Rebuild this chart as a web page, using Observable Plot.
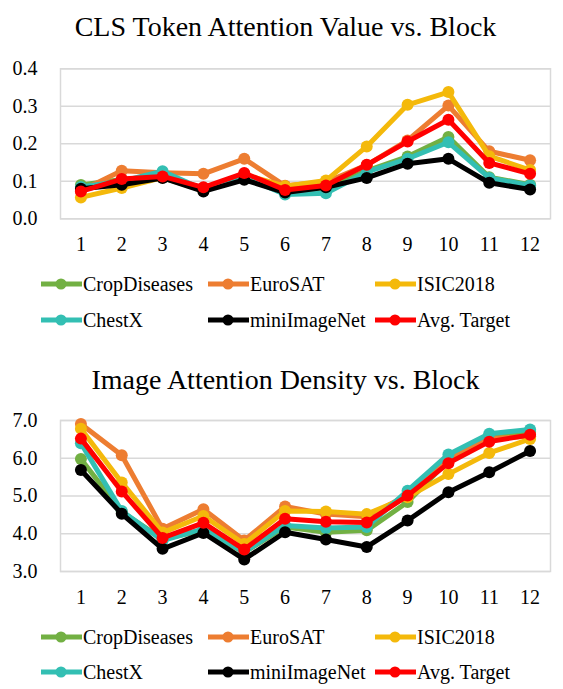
<!DOCTYPE html>
<html><head><meta charset="utf-8">
<script src="https://cdn.jsdelivr.net/npm/d3@7"></script>
<script src="https://cdn.jsdelivr.net/npm/@observablehq/plot@0.6"></script>
<style>
body{margin:0;background:#fff;font-family:"Liberation Serif","Times New Roman",serif;}
#root{position:relative;width:563px;height:689px;overflow:hidden;background:#fff}
.title{position:absolute;left:4px;width:563px;text-align:center;font-size:28px;line-height:28px;color:#000;white-space:nowrap;font-family:"Liberation Serif","Times New Roman",serif}
.chart{position:absolute;left:0}
.item{position:absolute;height:20px;white-space:nowrap}
.item svg{position:absolute;left:0;top:0}
.item span{position:absolute;left:43px;top:0;font-size:20px;line-height:20px;color:#000;font-family:"Liberation Serif","Times New Roman",serif}
</style></head><body><div id="root"></div>
<script>
const blocks = [1,2,3,4,5,6,7,8,9,10,11,12];
const seriesNames = ["CropDiseases","EuroSAT","ISIC2018","ChestX","miniImageNet","Avg. Target"];
const seriesColors = ["#72b043","#ed7d31","#f4b90b","#33bfb3","#000000","#ff0000"];

// CLS Token Attention Value
const clsCrop  = [0.090,0.105,0.113,0.080,0.115,0.070,0.084,0.128,0.166,0.218,0.111,0.091];
const clsEuro  = [0.075,0.128,0.123,0.120,0.160,0.088,0.098,0.143,0.209,0.302,0.180,0.156];
const clsIsic  = [0.057,0.082,0.110,0.075,0.118,0.087,0.102,0.193,0.304,0.338,0.167,0.130];
const clsChest = [0.085,0.100,0.127,0.078,0.112,0.065,0.068,0.125,0.160,0.204,0.109,0.089];
const clsMini  = [0.080,0.091,0.109,0.073,0.104,0.070,0.084,0.109,0.147,0.160,0.096,0.078];
const clsAvg   = [0.073,0.106,0.113,0.084,0.122,0.077,0.089,0.144,0.206,0.264,0.149,0.120];
const clsYTicks = [0,0.1,0.2,0.3,0.4];

// Image Attention Density
const denCrop  = [5.98,4.58,3.86,4.09,3.51,4.18,4.04,4.09,4.84,5.94,6.60,6.70];
const denEuro  = [6.91,6.08,4.13,4.65,3.82,4.72,4.52,4.45,5.03,5.98,6.52,6.58];
const denIsic  = [6.78,5.36,4.03,4.47,3.73,4.60,4.59,4.52,4.97,5.58,6.14,6.51];
const denChest = [6.40,4.60,3.82,4.13,3.51,4.22,4.15,4.18,5.14,6.10,6.65,6.76];
const denMini  = [5.69,4.53,3.60,4.02,3.32,4.04,3.85,3.65,4.35,5.10,5.63,6.19];
const denAvg   = [6.52,5.12,3.89,4.29,3.58,4.40,4.32,4.30,5.01,5.87,6.44,6.62];
const denYTicks = [3,4,5,6,7];

const titles = ["CLS Token Attention Value vs. Block","Image Attention Density vs. Block"];
const serif = "'Liberation Serif', 'Times New Roman', serif";

const root = document.getElementById("root");

function makeChart(values, yTicks, svgTop, mTop, mBottom) {
  const marks = [
    Plot.gridY(yTicks, {stroke:"#d9d9d9", strokeOpacity:1, strokeWidth:1.5}),
    Plot.frame({stroke:"#d9d9d9", strokeWidth:1.5}),
    Plot.axisX(blocks, {tickSize:0, tickPadding:18, label:null, fontSize:20, fontFamily:serif, fill:"#000", tickFormat:d=>String(d)}),
    Plot.axisY(yTicks, {tickSize:0, tickPadding:23, label:null, fontSize:20, fontFamily:serif, fill:"#000", tickFormat:d3.format(".1f")})
  ];
  seriesNames.forEach((name, si) => {
    const data = values[si].map((v, i) => ({block: blocks[i], value: v, series: name}));
    marks.push(Plot.line(data, {x:"block", y:"value", stroke:seriesColors[si], strokeWidth:5}));
    marks.push(Plot.dot(data, {x:"block", y:"value", fill:seriesColors[si], r:6}));
  });
  const svg = Plot.plot({
    width:563, height:210,
    marginLeft:60, marginRight:13, marginTop:mTop, marginBottom:mBottom,
    style:{fontFamily:serif, fontSize:"20px", color:"#000", background:"transparent", overflow:"visible"},
    x:{domain:[0.5,12.5]},
    y:{domain:[yTicks[0], yTicks[yTicks.length-1]]},
    marks
  });
  svg.classList.add("chart");
  svg.style.top = svgTop + "px";
  root.appendChild(svg);
}

function makeTitle(text, baseline) {
  const d = document.createElement("div");
  d.className = "title";
  d.textContent = text;
  d.style.top = (baseline - 23.5) + "px";
  root.appendChild(d);
}

function makeLegend(rowYs) {
  const colX = [40, 207, 374];
  seriesNames.forEach((name, i) => {
    const col = i % 3, row = Math.floor(i / 3);
    const item = document.createElement("div");
    item.className = "item";
    item.style.left = colX[col] + "px";
    item.style.top = (rowYs[row] - 10) + "px";
    item.innerHTML = `<svg width="43" height="20"><line x1="1" x2="42" y1="10" y2="10" stroke="${seriesColors[i]}" stroke-width="5"/><circle cx="21" cy="10" r="5.5" fill="${seriesColors[i]}"/></svg><span>${name}</span>`;
    root.appendChild(item);
  });
}

makeTitle(titles[0], 36);
makeChart([clsCrop,clsEuro,clsIsic,clsChest,clsMini,clsAvg], clsYTicks, 50, 18.3, 41.7);
makeLegend([283.5, 320]);

makeTitle(titles[1], 389);
makeChart([denCrop,denEuro,denIsic,denChest,denMini,denAvg], denYTicks, 402, 18, 41);
makeLegend([637, 672]);
</script></body></html>
